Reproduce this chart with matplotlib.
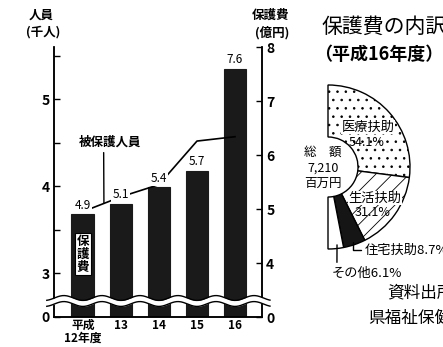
import matplotlib
matplotlib.use('Agg')
import matplotlib.pyplot as plt
import numpy as np

plt.rcParams['font.family'] = ['Noto Sans CJK JP', 'DejaVu Sans']
plt.rcParams['hatch.linewidth'] = 0.6

years = ['平成\n12年度', '13', '14', '15', '16']
spending = [4.9, 5.1, 5.4, 5.7, 7.6]          # 保護費 (億円)
recipients = [3.71, 3.88, 4.02, 4.52, 4.57]    # 被保護人員 (千人)
parts = ['医療扶助', '生活扶助', '住宅扶助', 'その他']
shares = [54.1, 31.1, 8.7, 6.1]
total = '7,210'

W, H = 443, 347
fig = plt.figure(figsize=(W / 100, H / 100), dpi=100)


def fx(px):
    return px / W


def fy(py):
    return 1 - py / H


# bar + line chart with broken axis
ax = fig.add_axes([fx(54), fy(317), (262 - 54) / W, (317 - 47) / H])
ax2 = ax.twinx()
ax.set_zorder(ax2.get_zorder() + 1)
ax.patch.set_visible(False)

x = np.arange(len(years))
ax2.bar(x, spending, width=0.6, color='#1a1a1a', edgecolor='#1a1a1a',
        linewidth=0.8)
ax.plot(x, recipients, color='black', lw=1.2, zorder=3)
for i, v in enumerate(spending):
    ax.annotate(f'{v}', (i, v), xycoords=ax2.transData, xytext=(0, 2),
                textcoords='offset points', ha='center', va='bottom',
                fontsize=8.5, zorder=5,
                bbox=dict(boxstyle='square,pad=0.1', fc='white', ec='none'))

ax.set_xlim(-0.76, 4.71)
ax.set_ylim(2.5, 5.6)
ax2.set_ylim(3, 8)
ax.set_yticks([2.5, 3, 4, 5], ['0', '3', '4', '5'])
ax.set_yticks([3.5, 4.5, 5.5], minor=True)
ax2.set_yticks([3, 4, 5, 6, 7, 8], ['0', '4', '5', '6', '7', '8'])
ax.set_xticks(x, years)
ax.tick_params(axis='x', length=0, pad=1.5, labelsize=8.5)
for lbl in ax.get_xticklabels():
    lbl.set_fontweight('bold')
    lbl.set_linespacing(1.0)
ax.tick_params(axis='y', which='both', direction='in', length=4, width=1,
               pad=3, labelsize=10)
ax2.tick_params(axis='y', direction='in', length=4, width=1, pad=3,
                labelsize=10)
for lbl in ax.get_yticklabels() + ax2.get_yticklabels():
    lbl.set_fontweight('bold')
for a in (ax, ax2):
    a.spines['top'].set_visible(False)
    for s in a.spines.values():
        s.set_linewidth(1.1)

# axis break (wavy band)
xs = np.linspace(-0.95, 4.92, 300)
wave = 0.009 * np.cos(2 * np.pi * (xs - 0.5))
upper = (317 - 298) / 270 + wave
lower = (317 - 304) / 270 + wave
tr = ax.get_xaxis_transform()
ax.fill_between(xs, lower, upper, transform=tr, color='white', zorder=20,
                clip_on=False, lw=0)
ax.plot(xs, upper, transform=tr, color='black', lw=1, zorder=21, clip_on=False)
ax.plot(xs, lower, transform=tr, color='black', lw=1, zorder=21, clip_on=False)
ax.set_xlim(-0.76, 4.71)
ax.set_ylim(2.5, 5.6)

ax.text(0, (317 - 254) / 270, '保\n護\n費', transform=tr, ha='center',
        va='center', fontsize=9, fontweight='bold', linespacing=1.0,
        zorder=15,
        bbox=dict(boxstyle='square,pad=0.15', fc='white', ec='black', lw=0.8))

ax.annotate('被保護人員', xy=(0.553, 3.804), xytext=(0.71, 4.51),
            ha='center', va='center', fontsize=9, fontweight='bold',
            arrowprops=dict(arrowstyle='-', lw=1, relpos=(0.4, 0),
                            shrinkA=1, shrinkB=0))

fig.text(fx(41), fy(15), '人員', ha='center', va='center', fontsize=9,
         fontweight='bold')
fig.text(fx(43), fy(32), '(千人)', ha='center', va='center', fontsize=9,
         fontweight='bold')
fig.text(fx(271), fy(15), '保護費', ha='center', va='center', fontsize=9,
         fontweight='bold')
fig.text(fx(272), fy(33), '(億円)', ha='center', va='center', fontsize=9,
         fontweight='bold')

# breakdown half pie
fig.text(fx(322), fy(27), '保護費の内訳', ha='left', va='center', fontsize=15)
fig.text(fx(314), fy(55), '（平成16年度）', ha='left', va='center',
         fontsize=13, fontweight='bold')

ax_pie = fig.add_axes([fx(328 - 82), fy(167 + 82), 164 / W, 164 / H])
wedges, _ = ax_pie.pie(shares + [100], startangle=90, counterclock=False,
                       radius=1,
                       colors=['white', 'white', '#151515', 'white', 'none'],
                       hatch=['..', '//', '', '', ''],
                       wedgeprops=dict(width=0.634, edgecolor='black',
                                       linewidth=1))
wedges[-1].set_visible(False)
ax_pie.set_xlim(-1, 1)
ax_pie.set_ylim(-1, 1)
ax_pie.axis('off')

fig.text(fx(368), fy(127), parts[0], ha='center', va='center', fontsize=9.5,
         bbox=dict(boxstyle='square,pad=0.05', fc='white', ec='none'))
fig.text(fx(367), fy(142), f'{shares[0]}%', ha='center', va='center',
         fontsize=9)
fig.text(fx(375), fy(198), parts[1], ha='center', va='center', fontsize=9.5,
         bbox=dict(boxstyle='square,pad=0.05', fc='white', ec='none'))
fig.text(fx(373), fy(213), f'{shares[1]}%', ha='center', va='center',
         fontsize=9)
ax_pie.annotate(f'{parts[2]}{shares[2]}%', xy=(0.30, -0.915),
                xytext=(fx(365), fy(250)), textcoords='figure fraction',
                ha='left', va='center', fontsize=9.5, annotation_clip=False,
                arrowprops=dict(arrowstyle='-', lw=1, relpos=(0, 0.5),
                                connectionstyle='angle,angleA=0,angleB=90,rad=0',
                                shrinkA=1, shrinkB=0))
ax_pie.annotate(f'{parts[3]}{shares[3]}%', xy=(0.11, -0.95),
                xytext=(fx(332), fy(273)), textcoords='figure fraction',
                ha='left', va='center', fontsize=9.5, annotation_clip=False,
                arrowprops=dict(arrowstyle='-', lw=1, relpos=(0.07, 1),
                                shrinkA=1, shrinkB=0))
fig.text(fx(323), fy(168), f'総　額\n{total}\n百万円', ha='center',
         va='center', fontsize=9, linespacing=1.25)

fig.text(fx(387), fy(293), '資料出所', ha='left', va='center', fontsize=12)
fig.text(fx(368), fy(318), '県福祉保健部', ha='left', va='center',
         fontsize=12)

fig.savefig('out.png', dpi=100)
